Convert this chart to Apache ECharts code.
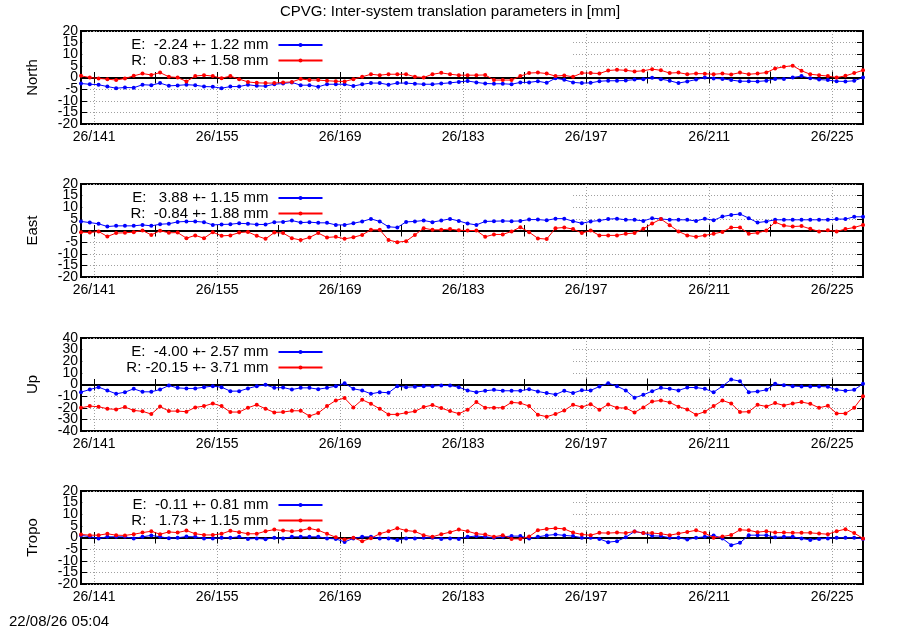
<!DOCTYPE html>
<html>
<head>
<meta charset="utf-8">
<script src="https://cdn.jsdelivr.net/npm/echarts@6/dist/echarts.min.js"></script>
<style>
  html, body { margin: 0; padding: 0; background: #fff; }
  #main { width: 900px; height: 630px; }
</style>
</head>
<body>
<div id="main"></div>
<script>
// day-of-year of the first daily solution (26/139.5)
var firstDay = 139.5;
var lastDay = 228.5;
var labelDays = [141, 155, 169, 183, 197, 211, 225];
var tickDays = [141, 148, 155, 162, 169, 176, 183, 190, 197, 204, 211, 218, 225];

// North
var northE = [-2.6, -2.9, -3.1, -3.9, -4.6, -4.3, -4.4, -3.1, -3.3, -2.4, -3.6, -3.4, -3.1, -3.3, -3.9, -4.0, -4.6, -3.9, -3.9, -3.1,
  -3.6, -3.7, -2.9, -2.6, -2.1, -3.3, -3.3, -4.0, -2.9, -2.9, -2.9, -3.7, -2.9, -2.4, -2.4, -3.1, -2.4, -2.4, -2.7, -2.9,
  -2.9, -2.6, -2.3, -1.9, -1.5, -2.1, -2.6, -2.7, -2.7, -2.9, -2.1, -2.1, -1.6, -2.3, -0.3, -1.0, -2.1, -2.4, -2.3, -1.6,
  -1.4, -1.4, -1.3, -0.9, -0.7, -0.1, -0.7, -1.4, -2.4, -1.7, -0.9, 0.0, -0.4, -0.6, -1.1, -1.6, -1.6, -1.7, -1.4, -0.6,
  -0.6, 0.0, 0.6, -0.3, -0.9, -1.1, -1.6, -1.7, -1.4, 0.0];
var northR = [0.7, 0.0, -0.4, -0.7, -1.1, -0.4, 0.7, 1.7, 1.1, 2.1, 0.3, 0.0, -1.7, 0.6, 1.0, 0.6, -0.3, 0.6, -0.7, -1.9,
  -2.3, -2.4, -2.4, -2.1, -1.9, -0.6, -1.1, -1.1, -1.4, -1.6, -1.7, -0.7, 0.3, 1.4, 1.0, 1.4, 1.4, 1.4, 0.3, 0.0,
  1.4, 2.0, 1.4, 1.0, 1.0, 1.0, 1.1, -1.1, -1.1, -1.1, 0.6, 1.9, 2.1, 1.7, 0.6, 0.9, 0.3, 1.9, 1.9, 1.7,
  3.0, 3.3, 3.1, 2.6, 2.9, 3.6, 3.1, 1.9, 2.1, 1.4, 1.7, 1.6, 1.4, 1.7, 1.3, 2.1, 1.4, 1.7, 2.1, 3.9,
  4.6, 5.1, 2.9, 1.4, 1.0, 0.6, 0.0, 0.7, 1.9, 3.1];

// East
var eastE = [3.9, 3.4, 2.9, 1.7, 2.0, 2.0, 2.0, 2.4, 2.0, 2.7, 2.9, 3.7, 3.9, 3.9, 3.6, 2.4, 2.6, 2.7, 3.1, 2.9,
  2.6, 2.6, 3.6, 3.7, 4.3, 3.4, 3.6, 3.3, 3.3, 2.4, 2.4, 3.1, 3.9, 5.0, 3.9, 1.6, 1.3, 3.7, 3.9, 4.3,
  3.6, 4.3, 5.0, 4.1, 3.0, 2.4, 3.9, 4.0, 4.1, 4.0, 4.1, 4.7, 4.7, 4.4, 5.1, 5.1, 4.0, 3.1, 3.9, 4.3,
  4.9, 5.1, 4.6, 4.6, 4.1, 5.3, 5.0, 4.6, 4.6, 4.6, 4.1, 5.1, 4.4, 6.0, 6.7, 7.1, 5.3, 3.4, 3.9, 4.6,
  4.6, 4.6, 4.6, 4.6, 4.6, 4.6, 4.9, 4.9, 5.9, 5.9];
var eastR = [-0.7, -0.9, -0.4, -2.6, -1.1, -1.0, -0.7, 0.0, -1.9, -0.1, -1.0, -0.9, -3.3, -2.1, -3.3, -0.7, -2.3, -2.1, -0.9, -0.6,
  -2.3, -3.6, -0.9, -1.1, -3.3, -4.1, -3.0, -1.1, -3.0, -2.7, -3.6, -2.9, -1.9, 0.3, 0.3, -4.1, -5.0, -4.6, -1.9, 1.0,
  0.3, 0.3, 0.6, 0.1, 0.0, 0.0, -2.7, -1.7, -1.7, -0.4, 1.4, -0.7, -3.4, -3.7, 1.0, 1.3, 0.6, -1.1, 0.0, -2.1,
  -2.1, -2.1, -1.4, -1.1, 0.7, 3.0, 4.9, 2.3, -0.4, -2.1, -2.7, -2.1, -1.4, -0.6, 1.3, 1.3, -1.4, -1.0, 0.0, 3.6,
  2.1, 1.7, 1.9, 0.7, -0.4, 0.1, -0.4, 0.6, 1.3, 2.4];

// Up
var upE = [-6.6, -4.3, -2.3, -5.1, -8.0, -6.6, -3.7, -6.3, -6.3, -4.3, -0.9, -2.9, -3.4, -3.4, -2.3, -1.4, -2.3, -5.7, -5.7, -3.4,
  -1.4, -0.3, -2.9, -2.6, -4.3, -2.9, -2.9, -4.0, -2.9, -1.4, 1.1, -3.7, -5.1, -8.0, -6.6, -7.1, -1.4, -2.3, -2.0, -1.4,
  -1.4, -0.9, -0.9, -2.3, -5.1, -6.6, -5.4, -4.6, -5.4, -5.4, -5.4, -4.0, -6.0, -7.4, -8.6, -5.4, -7.4, -4.9, -5.1, -1.7,
  1.1, -1.4, -5.1, -11.4, -8.9, -5.7, -2.9, -3.7, -5.1, -2.6, -2.6, -3.7, -6.6, -1.4, 4.3, 2.9, -6.6, -6.0, -4.6, 0.6,
  -0.6, -1.4, -1.7, -1.7, -1.7, -2.0, -4.6, -5.4, -4.6, 0.6];
var upR = [-20.0, -18.6, -19.1, -20.9, -21.4, -19.4, -22.3, -23.1, -25.4, -18.9, -22.9, -22.9, -23.4, -19.7, -18.6, -16.3, -18.6, -23.7, -23.7, -20.0,
  -17.4, -20.9, -24.0, -23.7, -22.6, -22.6, -27.1, -24.6, -18.6, -13.7, -11.7, -19.7, -13.1, -16.6, -20.9, -25.7, -25.7, -24.3, -23.1, -19.4,
  -17.7, -20.3, -22.9, -25.1, -21.7, -15.1, -20.0, -20.0, -20.0, -15.4, -16.0, -18.6, -26.0, -27.7, -25.4, -22.3, -17.4, -19.4, -16.9, -21.7,
  -17.1, -20.0, -20.3, -24.0, -19.7, -14.6, -13.7, -15.4, -19.1, -21.4, -26.0, -23.4, -18.6, -13.7, -16.3, -23.7, -23.4, -17.4, -18.9, -16.0,
  -18.0, -16.3, -15.1, -16.6, -20.0, -18.3, -24.9, -24.9, -20.0, -10.0];

// Tropo
var tropoE = [0.9, 0.4, -0.4, 0.3, 0.3, 0.3, -0.4, 0.3, 0.9, 0.3, -0.3, -0.1, 0.4, 0.3, -0.4, -0.4, -0.1, -0.1, 0.3, -0.6,
  -0.4, -0.7, -0.1, -0.4, 0.3, 0.3, 0.3, 0.3, -0.4, -0.6, -1.9, -0.4, 0.3, 0.3, -0.4, -0.4, -1.1, -0.4, -0.4, -0.1,
  -0.1, -0.6, -0.4, -0.6, 0.3, 0.6, 0.3, -0.1, 0.3, 0.6, 0.6, -0.4, 0.3, 0.9, 1.3, 0.9, 0.6, -0.1, -0.1, -0.6,
  -2.0, -1.6, 0.1, 2.6, 1.9, 0.7, 0.6, -0.1, -0.1, -0.9, -0.1, 0.3, 0.9, -0.4, -3.3, -2.3, 1.0, 1.0, 1.0, 0.1,
  0.3, 0.3, -0.4, -1.1, -0.6, -0.4, -0.1, -0.1, -0.1, -0.6];
var tropoR = [1.3, 1.0, 1.0, 1.6, 1.0, 0.9, 1.4, 2.1, 2.7, 1.4, 2.4, 2.1, 3.0, 1.6, 1.1, 1.1, 1.6, 2.9, 2.3, 1.6,
  1.6, 2.7, 3.4, 3.0, 2.7, 3.0, 3.9, 3.1, 1.6, 0.1, -0.9, -0.1, -1.6, -0.3, 1.6, 2.7, 4.0, 3.0, 2.6, 1.0,
  0.3, 1.4, 2.3, 3.4, 2.7, 1.6, 1.3, 0.3, 1.0, -0.6, -0.6, 0.4, 3.1, 3.7, 4.0, 3.7, 2.1, 1.3, 1.0, 2.0,
  1.9, 2.1, 1.9, 2.6, 1.9, 1.9, 1.6, 1.0, 1.7, 2.4, 3.1, 1.9, -0.1, 0.4, 1.1, 3.3, 3.1, 2.3, 2.7, 2.1,
  2.1, 2.0, 2.0, 2.0, 1.7, 1.4, 2.7, 3.6, 1.9, -0.4];

var panelNames = ['North', 'East', 'Up', 'Tropo'];
var yMax = [20, 20, 40, 20];
var yStep = [5, 5, 10, 5];
var seriesE = [northE, eastE, upE, tropoE];
var seriesR = [northR, eastR, upR, tropoR];
var legendE = ['E:  -2.24 +- 1.22 mm', 'E:   3.88 +- 1.15 mm', 'E:  -4.00 +- 2.57 mm', 'E:  -0.11 +- 0.81 mm'];
var legendR = ['R:   0.83 +- 1.58 mm', 'R:  -0.84 +- 1.88 mm', 'R: -20.15 +- 3.71 mm', 'R:   1.73 +- 1.15 mm'];

var panelTop = [31, 184, 338, 491];
var panelH = 93;
var keyRight = 195.5;   // right end of the key box, in days

var chart = echarts.init(document.getElementById('main'), null, {renderer: 'canvas'});

function toPoints(vals) {
    return vals.map(function (v, i) { return [firstDay + i, v]; });
}

// y tick values, split in two alternating sets so the tight labels all stay visible
function yTicks(k, parity) {
    var out = [];
    for (var v = yMax[k], j = 0; v >= -yMax[k]; v -= yStep[k], j++) {
        if (j % 2 === parity) out.push(v);
    }
    return out;
}

var grids = [], xAxes = [], yAxes = [], series = [], legends = [];
var dotted = {color: '#a0a0a0', width: 1, type: [1, 2]};
var tickStyle = {color: '#000', width: 1};
var font = 'Liberation Sans';
var yLabelStyle = {color: '#000', fontSize: 14, margin: 3, fontFamily: font, showMinLabel: true, showMaxLabel: true};

for (var k = 0; k < 4; k++) {
    grids.push({
        left: 81, right: 37, top: panelTop[k], height: panelH,
        show: true, borderColor: '#000', borderWidth: 2, backgroundColor: 'transparent'
    });
    // bottom axis: labels + all ticks
    xAxes.push({
        type: 'value', gridIndex: k, min: firstDay, max: lastDay, position: 'bottom',
        axisLine: {show: false},
        axisTick: {show: true, inside: true, length: 6, lineStyle: tickStyle, customValues: tickDays},
        axisLabel: {
            show: true, customValues: labelDays, margin: 6, color: '#000', fontSize: 14,
            fontFamily: font,
            formatter: function (v) { return '26/' + Math.round(v); }
        },
        splitLine: {show: false}
    });
    // top axis: mirrored ticks
    xAxes.push({
        type: 'value', gridIndex: k, min: firstDay, max: lastDay, position: 'top',
        axisLine: {show: false},
        axisTick: {show: true, inside: true, length: 6, lineStyle: tickStyle, customValues: tickDays},
        axisLabel: {show: false},
        splitLine: {show: false}
    });
    // hidden axis carrying the vertical grid at labelled days
    xAxes.push({
        type: 'value', gridIndex: k, min: firstDay, max: lastDay, position: 'bottom',
        axisLine: {show: false},
        axisTick: {show: false, customValues: labelDays},
        axisLabel: {show: false},
        splitLine: {show: true, lineStyle: dotted}
    });
    // left axis: ticks, grid, every other label
    yAxes.push({
        type: 'value', gridIndex: k, min: -yMax[k], max: yMax[k], interval: yStep[k], position: 'left',
        name: panelNames[k], nameLocation: 'middle', nameGap: 41,
        nameTextStyle: {color: '#000', fontSize: 15, fontFamily: font},
        axisLine: {show: false},
        axisTick: {show: true, inside: true, length: 6, lineStyle: tickStyle},
        axisLabel: Object.assign({customValues: yTicks(k, 0)}, yLabelStyle),
        splitLine: {show: true, lineStyle: dotted}
    });
    // left axis: the remaining labels
    yAxes.push({
        type: 'value', gridIndex: k, min: -yMax[k], max: yMax[k], interval: yStep[k], position: 'left',
        axisLine: {show: false},
        axisTick: {show: false},
        axisLabel: Object.assign({customValues: yTicks(k, 1)}, yLabelStyle),
        splitLine: {show: false}
    });
    // right axis: mirrored ticks
    yAxes.push({
        type: 'value', gridIndex: k, min: -yMax[k], max: yMax[k], interval: yStep[k], position: 'right',
        axisLine: {show: false},
        axisTick: {show: true, inside: true, length: 6, lineStyle: tickStyle},
        axisLabel: {show: false},
        splitLine: {show: false}
    });

    // white key box hiding the grid, kept just inside the frame
    var perPx = 2 * yMax[k] / panelH;
    var boxTop = yMax[k] - 1.5 * perPx;
    var boxBottom = yMax[k] - 41 * perPx;
    series.push({
        name: 'E' + k, type: 'line', xAxisIndex: 3 * k, yAxisIndex: 3 * k,
        data: toPoints(seriesE[k]),
        symbol: 'circle', symbolSize: 4, showSymbol: true,
        lineStyle: {color: '#0000ff', width: 1},
        itemStyle: {color: '#0000ff'},
        markArea: {
            silent: true, z: 0.5,
            itemStyle: {color: '#fff', opacity: 1},
            label: {show: false},
            data: [[{xAxis: firstDay + 0.15, yAxis: boxTop}, {xAxis: keyRight, yAxis: boxBottom}]]
        },
        markLine: {
            silent: true, z: 1, symbol: 'none',
            label: {show: false},
            lineStyle: {color: '#000', width: 2, type: 'solid'},
            data: [{yAxis: 0}]
        }
    });
    series.push({
        name: 'R' + k, type: 'line', xAxisIndex: 3 * k, yAxisIndex: 3 * k,
        data: toPoints(seriesR[k]),
        symbol: 'circle', symbolSize: 4, showSymbol: true,
        lineStyle: {color: '#ff0000', width: 1},
        itemStyle: {color: '#ff0000'}
    });

    var rows = [['E' + k, legendE[k], 15], ['R' + k, legendR[k], 30.5]];
    rows.forEach(function (r) {
        var txt = r[1];
        legends.push({
            data: [r[0]], right: 576.5, top: panelTop[k] + r[2] - 8.5,
            orient: 'horizontal', align: 'right', padding: 0,
            itemWidth: 44, itemHeight: 5, selectedMode: false,
            formatter: function () { return txt; },
            textStyle: {color: '#000', fontSize: 15, fontFamily: font, padding: [0, 5, 0, 0]}
        });
    });
}

var option = {
    animation: false,
    backgroundColor: '#fff',
    textStyle: {fontFamily: font},
    title: [{
        text: 'CPVG: Inter-system translation parameters in [mm]',
        left: 'center', top: 4, padding: 0,
        textStyle: {color: '#000', fontSize: 15, fontWeight: 'normal', fontFamily: font}
    }, {
        text: '22/08/26 05:04',
        left: 9, top: 614, padding: 0,
        textStyle: {color: '#000', fontSize: 15, fontWeight: 'normal', fontFamily: font}
    }],
    legend: legends,
    grid: grids,
    xAxis: xAxes,
    yAxis: yAxes,
    series: series
};
chart.setOption(option);
</script>
</body>
</html>
